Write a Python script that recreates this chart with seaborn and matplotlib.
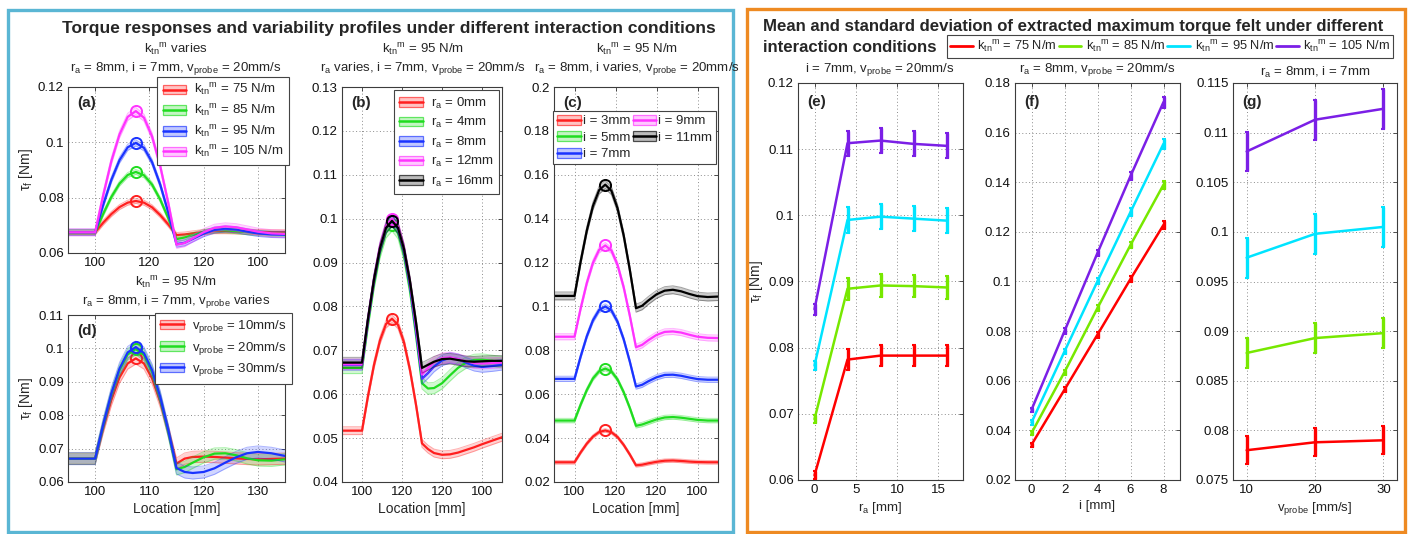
import matplotlib
matplotlib.use("Agg")
import matplotlib.pyplot as plt
import seaborn as sns
from matplotlib.patches import Patch, Rectangle
from matplotlib.lines import Line2D
from matplotlib.legend_handler import HandlerTuple

sns.set_theme(style="white")
plt.rcParams['font.family'] = ['Liberation Sans', 'DejaVu Sans']
plt.rcParams['mathtext.fontset'] = 'custom'
plt.rcParams['mathtext.rm'] = 'Liberation Sans'
plt.rcParams['mathtext.it'] = 'Liberation Sans:italic'
plt.rcParams['mathtext.bf'] = 'Liberation Sans:bold'
plt.rcParams['mathtext.default'] = 'regular'

# ---------------- torque profiles along the probe path ----------------
location = [95, 100, 101.5, 103, 104.5, 106, 107.5, 109, 110.5, 112, 113.5,
            115, 116.5, 118, 120, 122, 124, 126, 128, 130, 132.5, 135]

# (a) stiffness k varies: 75, 85, 95, 105 N/m
stiff_labels = ["75", "85", "95", "105"]
prof_k75 = [.0675, .0675, .0710, .0741, .0766, .0782, .0788, .0782, .0765, .0737, .0703,
            .0665, .0667, .0671, .0676, .0679, .0679, .0678, .0677, .0676, .0675, .0675]
prof_k85 = [.0675, .0675, .0742, .0803, .0851, .0882, .0893, .0881, .0847, .0793, .0725,
            .0650, .0656, .0665, .0676, .0682, .0682, .0679, .0675, .0672, .0670, .0670]
prof_k95 = [.0675, .0675, .0775, .0865, .0936, .0982, .0998, .0980, .0928, .0847, .0745,
            .0632, .0637, .0651, .0670, .0683, .0687, .0684, .0677, .0671, .0667, .0666]
prof_k105 = [.0675, .0675, .0810, .0933, .1029, .1092, .1113, .1089, .1021, .0914, .0779,
             .0630, .0636, .0653, .0675, .0691, .0696, .0693, .0685, .0677, .0671, .0669]
std_k = [.0009, .0009, .0011, .0013]

# (b) r_a varies: 0, 4, 8, 12, 16 mm
ra_labels = ["0", "4", "8", "12", "16"]
prof_ra0 = [.0517, .0517, .0596, .0667, .0723, .0760, .0772, .0758, .0718, .0655, .0576,
            .0488, .0475, .0466, .0462, .0463, .0467, .0473, .0479, .0486, .0494, .0502]
prof_ra4 = [.0660, .0660, .0760, .0851, .0923, .0969, .0985, .0967, .0916, .0837, .0736,
            .0625, .0613, .0614, .0625, .0643, .0660, .0672, .0678, .0679, .0676, .0673]
prof_ra8 = [.0667, .0667, .0768, .0860, .0932, .0979, .0995, .0977, .0926, .0847, .0746,
            .0635, .0648, .0663, .0677, .0683, .0680, .0672, .0665, .0662, .0664, .0667]
prof_ra12 = [.0668, .0668, .0771, .0863, .0937, .0984, .1000, .0983, .0932, .0854, .0755,
             .0645, .0660, .0673, .0682, .0684, .0680, .0675, .0671, .0670, .0671, .0672]
prof_ra16 = [.0672, .0672, .0772, .0862, .0933, .0979, .0995, .0979, .0931, .0857, .0764,
             .0660, .0667, .0674, .0680, .0681, .0678, .0675, .0674, .0675, .0676, .0676]
std_ra = [.0009, .0013, .0012, .0012, .0012]

# (c) indentation i varies: 3, 5, 7, 9, 11 mm
ind_labels = ["3", "5", "7", "9", "11"]
prof_i3 = [.0290, .0290, .0335, .0375, .0407, .0428, .0435, .0427, .0405, .0369, .0325,
           .0276, .0279, .0285, .0292, .0297, .0298, .0296, .0293, .0291, .0290, .0290]
prof_i5 = [.0480, .0480, .0553, .0619, .0672, .0705, .0717, .0704, .0667, .0609, .0537,
           .0456, .0462, .0472, .0485, .0494, .0496, .0493, .0488, .0483, .0480, .0480]
prof_i7 = [.0670, .0670, .0772, .0864, .0937, .0984, .1000, .0982, .0930, .0850, .0748,
           .0635, .0643, .0659, .0677, .0688, .0689, .0684, .0676, .0669, .0666, .0666]
prof_i9 = [.0862, .0862, .0991, .1107, .1199, .1258, .1278, .1255, .1189, .1087, .0957,
           .0814, .0825, .0846, .0870, .0884, .0886, .0881, .0871, .0862, .0857, .0856]
prof_i11 = [.1048, .1048, .1205, .1346, .1458, .1530, .1555, .1527, .1447, .1323, .1166,
            .0992, .1003, .1027, .1055, .1072, .1076, .1069, .1057, .1047, .1043, .1045]
std_i = [.0008, .0010, .0012, .0014, .0018]

# (d) probe speed varies: 10, 20, 30 mm/s
speed_labels = ["10", "20", "30"]
prof_v10 = [.0670, .0670, .0763, .0846, .0913, .0955, .0970, .0955, .0910, .0840, .0752,
            .0655, .0670, .0675, .0676, .0675, .0673, .0671, .0669, .0668, .0669, .0670]
prof_v20 = [.0670, .0670, .0771, .0863, .0935, .0982, .0998, .0980, .0929, .0850, .0749,
            .0638, .0645, .0658, .0674, .0685, .0686, .0680, .0671, .0665, .0664, .0668]
prof_v30 = [.0670, .0670, .0773, .0866, .0940, .0988, .1004, .0986, .0935, .0855, .0754,
            .0642, .0630, .0627, .0630, .0641, .0658, .0674, .0686, .0690, .0686, .0678]
std_v = [.0017, .0017, .0018]

loc_ticks = [100, 110, 120, 130]
loc_ticklabels_abc = ["100", "120", "120", "100"]
loc_ticklabels_d = ["100", "110", "120", "130"]

# ---------------- extracted maximum torque (mean, std) ----------------
ra_values = [0, 4, 8, 12, 16]
peak_ra_mean = [[.0607, .0782, .0788, .0788, .0788],
                [.0692, .0889, .0894, .0893, .0891],
                [.0773, .0993, .0998, .0995, .0992],
                [.0858, .1109, .1113, .1108, .1105]]
peak_ra_std = [[.0006, .0016, .0016, .0016, .0016],
               [.0006, .0017, .0017, .0017, .0017],
               [.0007, .0019, .0019, .0019, .0019],
               [.0008, .0019, .0019, .0019, .0019]]

i_values = [0, 2, 4, 6, 8]
peak_i_mean = [[.0342, .0564, .0786, .1010, .1228],
               [.0389, .0635, .0893, .1147, .1390],
               [.0432, .0718, .1001, .1280, .1555],
               [.0483, .0800, .1115, .1425, .1723]]
peak_i_std = [[.0008, .0010, .0012, .0014, .0016],
              [.0008, .0010, .0012, .0014, .0016],
              [.0009, .0011, .0013, .0016, .0020],
              [.0009, .0011, .0013, .0016, .0022]]

v_values = [10, 20, 30]
peak_v_mean = [[.0780, .0788, .0790],
               [.0878, .0893, .0898],
               [.0974, .0998, .1005],
               [.1081, .1113, .1124]]
peak_v_std = [[.0014, .0014, .0014],
              [.0015, .0015, .0015],
              [.0020, .0020, .0020],
              [.0020, .0020, .0020]]

# ---------------- styling ----------------
RED, GREEN, BLUE, MAG, BLACK = "#ff1f1f", "#1fdc1f", "#1a33ff", "#ff33ff", "#000000"
R_RED, R_GREEN, R_CYAN, R_PURPLE = "#ff0000", "#77e800", "#00e4ff", "#7b1fe6"

K = r"k$_{tn}$$^{m}$"
RA = r"r$_{a}$"
VP = r"v$_{probe}$"
TAU = r"$\tau_{f}$ [Nm]"

W, H = 1409, 534
fig = plt.figure(figsize=(W / 100, H / 100), dpi=100)


def rect(l, t, r, b):
    return [l / W, 1 - b / H, (r - l) / W, (b - t) / H]


def style(ax):
    ax.grid(True, linestyle=(0, (1, 2.5)), color="#8c8c8c", linewidth=0.7)
    ax.tick_params(direction="in", length=3, width=0.6, top=True, right=True,
                   labelsize=9.5, pad=3, color="#333333", labelcolor="#111111")
    for s in ax.spines.values():
        s.set_color("#3c3c3c")
        s.set_linewidth(0.8)


def panel_tag(ax, tag, dy):
    ax.annotate(tag, xy=(0, 1), xycoords="axes fraction", xytext=(9, -dy),
                textcoords="offset pixels", fontsize=11, weight="bold",
                ha="left", va="center")


def profile_panel(ax, curves, stds, colors, ylim, yticks, ticklabels, tag):
    handles = []
    for y, sd, c in zip(curves, stds, colors):
        lo = [v - sd for v in y]
        hi = [v + sd for v in y]
        ax.fill_between(location, lo, hi, color=c, alpha=0.2, linewidth=0)
        ax.plot(location, lo, color=c, alpha=0.35, linewidth=0.7)
        ax.plot(location, hi, color=c, alpha=0.35, linewidth=0.7)
        sns.lineplot(x=location, y=y, color=c, linewidth=1.6, ax=ax, errorbar=None)
        k = max(range(len(y)), key=lambda j: y[j])
        ax.plot(location[k], y[k], "o", mfc="none", mec=c, ms=8, mew=1.4)
        handles.append((Patch(facecolor=c + "44", edgecolor=c + "aa", linewidth=0.9),
                        Line2D([], [], color=c, linewidth=1.8)))
    ax.set_xlim(95, 135)
    ax.set_ylim(*ylim)
    ax.set_yticks(yticks)
    ax.set_yticklabels([f"{t:g}" for t in yticks])
    ax.set_xticks(loc_ticks)
    ax.set_xticklabels(ticklabels)
    panel_tag(ax, tag, 16)
    style(ax)
    return handles


def band_legend(ax, handles, labels, **kw):
    opts = dict(frameon=True, fancybox=False, edgecolor="#444444", framealpha=1,
                fontsize=9.5, handlelength=1.8, handleheight=0.75, borderpad=0.4,
                labelspacing=0.34, handletextpad=0.6, borderaxespad=0.0,
                loc="upper right")
    opts.update(kw)
    leg = ax.legend(handles, labels, handler_map={tuple: HandlerTuple(ndivide=1)},
                    **opts)
    leg.get_frame().set_linewidth(0.8)
    leg.set_zorder(10)
    return leg


# (a)
ax_a = fig.add_axes(rect(68, 87, 285, 253))
h = profile_panel(ax_a, [prof_k75, prof_k85, prof_k95, prof_k105], std_k,
                  [RED, GREEN, BLUE, MAG], (0.06, 0.12),
                  [0.06, 0.08, 0.10, 0.12], loc_ticklabels_abc, "(a)")
band_legend(ax_a, h, [f"{K} = {s} N/m" for s in stiff_labels],
            bbox_to_anchor=(1.018, 1.06))
ax_a.set_ylabel(TAU, fontsize=10, labelpad=2)

# (d)
ax_d = fig.add_axes(rect(68, 315, 285, 482))
h = profile_panel(ax_d, [prof_v10, prof_v20, prof_v30], std_v,
                  [RED, GREEN, BLUE], (0.06, 0.11),
                  [0.06, 0.07, 0.08, 0.09, 0.10, 0.11], loc_ticklabels_d, "(d)")
band_legend(ax_d, h, [f"{VP} = {s}mm/s" for s in speed_labels],
            bbox_to_anchor=(1.032, 1.012))
ax_d.set_ylabel(TAU, fontsize=10, labelpad=2)
ax_d.set_xlabel("Location [mm]", fontsize=10, labelpad=3)

# (b)
ax_b = fig.add_axes(rect(342, 87, 502, 482))
h = profile_panel(ax_b, [prof_ra0, prof_ra4, prof_ra8, prof_ra12, prof_ra16], std_ra,
                  [RED, GREEN, BLUE, MAG, BLACK], (0.04, 0.13),
                  [0.04, 0.05, 0.06, 0.07, 0.08, 0.09, 0.10, 0.11, 0.12, 0.13],
                  loc_ticklabels_abc, "(b)")
band_legend(ax_b, h, [f"{RA} = {s}mm" for s in ra_labels],
            bbox_to_anchor=(0.981, 0.992))
ax_b.set_xlabel("Location [mm]", fontsize=10, labelpad=3)

# (c)
ax_c = fig.add_axes(rect(554, 87, 718, 482))
h = profile_panel(ax_c, [prof_i3, prof_i5, prof_i7, prof_i9, prof_i11], std_i,
                  [RED, GREEN, BLUE, MAG, BLACK], (0.02, 0.2),
                  [0.02, 0.04, 0.06, 0.08, 0.10, 0.12, 0.14, 0.16, 0.18, 0.2],
                  loc_ticklabels_abc, "(c)")
band_legend(ax_c, h, [f"i = {s}mm" for s in ind_labels], ncol=2,
            bbox_to_anchor=(0.99, 0.939), borderpad=0.3, labelspacing=0.3,
            columnspacing=0.2, handletextpad=0.15)
ax_c.set_xlabel("Location [mm]", fontsize=10, labelpad=3)


# ---------------- mean / std panels ----------------
def summary_panel(ax, xs, means, stds, xlim, xticks, ylim, yticks, tag):
    for m, s, c in zip(means, stds, [R_RED, R_GREEN, R_CYAN, R_PURPLE]):
        sns.lineplot(x=xs, y=m, color=c, linewidth=1.8, ax=ax, errorbar=None)
        ax.errorbar(xs, m, yerr=s, fmt="none", ecolor=c, elinewidth=2.4, capsize=1.5,
                    capthick=1.5)
    ax.set_xlim(*xlim)
    ax.set_xticks(xticks)
    ax.set_ylim(*ylim)
    ax.set_yticks(yticks)
    ax.set_yticklabels([f"{t:g}" for t in yticks])
    panel_tag(ax, tag, 19)
    style(ax)


ax_e = fig.add_axes(rect(798, 83, 963, 480))
summary_panel(ax_e, ra_values, peak_ra_mean, peak_ra_std, (-2, 18), [0, 5, 10, 15],
              (0.06, 0.12), [0.06, 0.07, 0.08, 0.09, 0.10, 0.11, 0.12], "(e)")
ax_e.set_xlabel(f"{RA} [mm]", fontsize=9.5, labelpad=3)
ax_e.set_ylabel(TAU, fontsize=10, labelpad=2)

ax_f = fig.add_axes(rect(1015, 83, 1180, 480))
summary_panel(ax_f, i_values, peak_i_mean, peak_i_std, (-1, 9), [0, 2, 4, 6, 8],
              (0.02, 0.18), [0.02, 0.04, 0.06, 0.08, 0.10, 0.12, 0.14, 0.16, 0.18], "(f)")
ax_f.set_xlabel("i [mm]", fontsize=9.5, labelpad=3)

ax_g = fig.add_axes(rect(1233, 83, 1397, 480))
summary_panel(ax_g, v_values, peak_v_mean, peak_v_std, (8, 32), [10, 20, 30],
              (0.075, 0.115), [0.075, 0.08, 0.085, 0.09, 0.095, 0.10, 0.105, 0.11, 0.115],
              "(g)")
ax_g.set_xlabel(f"{VP} [mm/s]", fontsize=9.5, labelpad=3)

# ---------------- titles, subtitles, legends, frames ----------------
fig.text(389 / W, 1 - 28 / H,
         "Torque responses and variability profiles under different interaction conditions",
         ha="center", va="center", fontsize=12.5, weight="bold")
fig.text(763 / W, 1 - 27 / H,
         "Mean and standard deviation of extracted maximum torque felt under different",
         ha="left", va="center", fontsize=12.1, weight="bold")
fig.text(763 / W, 1 - 47 / H, "interaction conditions",
         ha="left", va="center", fontsize=12.1, weight="bold")


def sub(x, y, s):
    fig.text(x / W, 1 - y / H, s, ha="center", va="center", fontsize=9.5)


sub(176, 50, f"{K} varies")
sub(176, 69, f"{RA} = 8mm, i = 7mm, {VP} = 20mm/s")
sub(423, 50, f"{K} = 95 N/m")
sub(423, 69, f"{RA} varies, i = 7mm, {VP} = 20mm/s")
sub(637, 50, f"{K} = 95 N/m")
sub(637, 69, f"{RA} = 8mm, i varies, {VP} = 20mm/s")
sub(176, 283, f"{K} = 95 N/m")
sub(176, 301, f"{RA} = 8mm, i = 7mm, {VP} varies")
sub(880, 70, f"i = 7mm, {VP} = 20mm/s")
sub(1097, 70, f"{RA} = 8mm, {VP} = 20mm/s")
sub(1315, 72, f"{RA} = 8mm, i = 7mm")

top_handles = [Line2D([], [], color=c, linewidth=2) for c in [R_RED, R_GREEN, R_CYAN, R_PURPLE]]
top_leg = fig.legend(top_handles, [f"{K} = {s} N/m" for s in stiff_labels],
                     loc="center", bbox_to_anchor=(1170 / W, 1 - 46.5 / H), ncol=4,
                     fontsize=9.3, frameon=True, fancybox=False, edgecolor="#444444",
                     framealpha=1, handlelength=1.75, handletextpad=0.35,
                     columnspacing=0.15, borderpad=0.25)
top_leg.get_frame().set_linewidth(0.8)

fig.patches.append(Rectangle((8 / W, 1 - 532 / H), 725 / W, 522 / H,
                             transform=fig.transFigure, fill=False,
                             edgecolor="#5ab6d4", linewidth=2.4))
fig.patches.append(Rectangle((747 / W, 1 - 532 / H), 658 / W, 523 / H,
                             transform=fig.transFigure, fill=False,
                             edgecolor="#ee8a22", linewidth=2.4))

fig.savefig("out.png", dpi=100)
